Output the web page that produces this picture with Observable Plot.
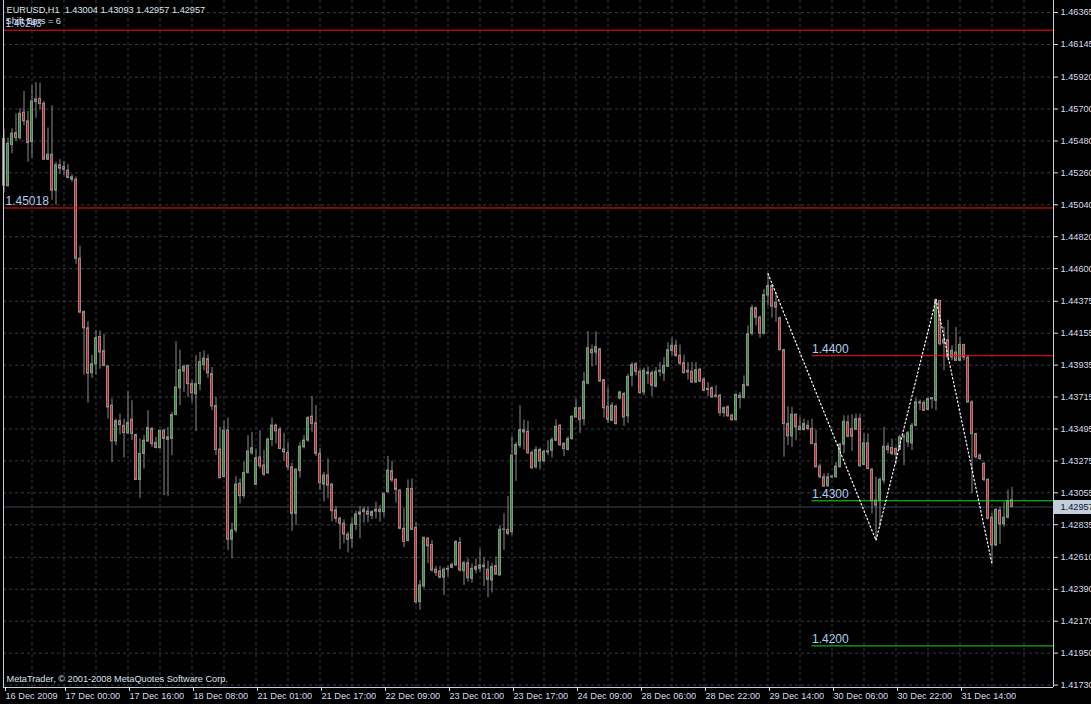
<!DOCTYPE html>
<html>
<head>
<meta charset="utf-8">
<script src="https://cdn.jsdelivr.net/npm/d3@7"></script>
<script src="https://cdn.jsdelivr.net/npm/@observablehq/plot@0.6"></script>
<style>
  html, body { margin: 0; padding: 0; background: #000; overflow: hidden; }
  #chart svg { display: block; }
</style>
</head>
<body>
<div id="chart"></div>
<script>
// EURUSD H1 candles (bar index 0 = 16 Dec 2009 09:00)
const open = [
1.45493,1.45168,1.45452,1.45534,1.45500,1.45676,1.45615,1.45472,1.45748,1.45770,
1.45736,1.45351,1.45385,1.45138,1.45312,1.45301,1.45275,1.45230,1.45213,1.44668,
1.44301,1.44189,1.43880,1.43941,1.44129,1.44031,1.43925,1.43655,1.43410,1.43549,
1.43517,1.43465,1.43559,1.43453,1.43144,1.43323,1.43409,1.43494,1.43398,1.43364,
1.43483,1.43421,1.43426,1.43591,1.43776,1.43891,1.43930,1.43804,1.43735,1.43804,
1.43935,1.43976,1.43873,1.43653,1.43353,1.43163,1.43483,1.42732,1.42796,1.43117,
1.43032,1.43192,1.43328,1.43110,1.43298,1.43243,1.43190,1.43419,1.43518,1.43490,
1.43353,1.43330,1.43231,1.42910,1.43204,1.43369,1.43415,1.43580,1.43534,1.43323,
1.43112,1.43174,1.43112,1.42933,1.42876,1.42842,1.42766,1.42738,1.42835,1.42904,
1.42922,1.42926,1.42897,1.42926,1.42938,1.42922,1.43059,1.43204,1.43144,1.43071,
1.42807,1.42722,1.43082,1.42813,1.42302,1.42410,1.42738,1.42696,1.42525,1.42513,
1.42470,1.42525,1.42538,1.42554,1.42710,1.42515,1.42570,1.42463,1.42525,1.42531,
1.42554,1.42525,1.42451,1.42550,1.42486,1.42800,1.42800,1.42784,1.43318,1.43380,
1.43487,1.43476,1.43329,1.43231,1.43350,1.43272,1.43334,1.43345,1.43414,1.43517,
1.43391,1.43350,1.43425,1.43574,1.43638,1.43563,1.43808,1.44040,1.44021,1.44044,
1.43831,1.43648,1.43551,1.43648,1.43705,1.43735,1.43582,1.43861,1.43941,1.43889,
1.43747,1.43873,1.43880,1.43786,1.43889,1.43877,1.43923,1.44033,1.44068,1.43999,
1.43948,1.43884,1.43889,1.43815,1.43903,1.43834,1.43770,1.43776,1.43717,1.43724,
1.43605,1.43644,1.43586,1.43556,1.43724,1.43708,1.43793,1.44152,1.44327,1.44262,
1.44152,1.44416,1.44480,1.44365,1.44258,1.44038,1.43529,1.43444,1.43593,1.43511,
1.43488,1.43517,1.43495,1.43391,1.43236,1.43162,1.43100,1.43162,1.43162,1.43231,
1.43387,1.43540,1.43495,1.43490,1.43563,1.43247,1.43396,1.43215,1.43002,1.42997,
1.43139,1.43373,1.43364,1.43357,1.43352,1.43437,1.43403,1.43396,1.43517,1.43671,
1.43673,1.43627,1.43700,1.43689,1.44377,1.44084,1.44107,1.43987,1.44022,1.43964,
1.44074,1.43987,1.43678,1.43460,1.43311,1.43254,1.43144,1.42883,1.42692,1.42933,
1.42837,1.42883,1.43004];
const high = [
1.45557,1.45500,1.45564,1.45667,1.45702,1.45821,1.45683,1.45862,1.45883,1.45878,
1.45752,1.45569,1.45722,1.45333,1.45351,1.45340,1.45317,1.45248,1.45232,1.44755,
1.44308,1.44235,1.44003,1.44171,1.44171,1.44148,1.43930,1.43701,1.43563,1.43598,
1.43563,1.43751,1.43689,1.43460,1.43426,1.43449,1.43621,1.43506,1.43437,1.43483,
1.43494,1.43506,1.43609,1.44097,1.44038,1.43935,1.43935,1.43827,1.44003,1.44022,
1.44033,1.44006,1.43919,1.43713,1.43506,1.43548,1.43570,1.42846,1.43167,1.43151,
1.43266,1.43449,1.43472,1.43357,1.43483,1.43346,1.43431,1.43570,1.43529,1.43506,
1.43465,1.43403,1.43259,1.43220,1.43403,1.43449,1.43580,1.43719,1.43655,1.43362,
1.43197,1.43289,1.43117,1.42961,1.42887,1.42869,1.42784,1.42876,1.42929,1.42961,
1.42956,1.42956,1.42933,1.42991,1.42968,1.43053,1.43305,1.43273,1.43151,1.43075,
1.42945,1.43144,1.43151,1.42852,1.42451,1.42749,1.42749,1.42726,1.42548,1.42548,
1.42538,1.42548,1.42570,1.42726,1.42745,1.42584,1.42600,1.42566,1.42600,1.42669,
1.42607,1.42584,1.42570,1.42612,1.42829,1.42910,1.43029,1.43441,1.43402,1.43655,
1.43556,1.43547,1.43345,1.43373,1.43363,1.43350,1.43414,1.43437,1.43558,1.43524,
1.43402,1.43441,1.43586,1.43700,1.43643,1.43884,1.44166,1.44074,1.44166,1.44051,
1.43838,1.43781,1.43677,1.43661,1.43754,1.43747,1.43873,1.43953,1.43953,1.43907,
1.43914,1.43923,1.43896,1.43919,1.43953,1.43987,1.44090,1.44120,1.44107,1.44074,
1.44003,1.43953,1.43953,1.43953,1.43914,1.43850,1.43815,1.43786,1.43793,1.43735,
1.43648,1.43655,1.43598,1.43735,1.43747,1.43861,1.44205,1.44349,1.44336,1.44274,
1.44457,1.44565,1.44492,1.44434,1.44267,1.44045,1.43648,1.43644,1.43598,1.43575,
1.43563,1.43552,1.43563,1.43488,1.43254,1.43185,1.43189,1.43174,1.43265,1.43396,
1.43586,1.43586,1.43593,1.43598,1.43598,1.43460,1.43460,1.43219,1.43162,1.43158,
1.43506,1.43396,1.43426,1.43368,1.43449,1.43460,1.43478,1.43534,1.43708,1.43694,
1.43689,1.43705,1.43708,1.44388,1.44382,1.44194,1.44244,1.44068,1.44194,1.44125,
1.44079,1.43999,1.43689,1.43465,1.43323,1.43265,1.43151,1.42915,1.42944,1.42956,
1.42990,1.43075,1.43093];
const low = [
1.45122,1.45163,1.45392,1.45477,1.45484,1.45585,1.45333,1.45362,1.45637,1.45695,
1.45346,1.45346,1.45071,1.45037,1.45248,1.45241,1.45218,1.45195,1.44629,1.44292,
1.43866,1.43673,1.43843,1.43868,1.43907,1.43923,1.43563,1.43265,1.43380,1.43453,
1.43295,1.43460,1.43414,1.43139,1.43018,1.43219,1.43403,1.43368,1.43357,1.43352,
1.43036,1.43031,1.43311,1.43586,1.43655,1.43747,1.43712,1.43673,1.43478,1.43758,
1.43896,1.43843,1.43621,1.43312,1.43151,1.43158,1.42658,1.42601,1.42777,1.42979,
1.43014,1.43185,1.43312,1.43105,1.43220,1.43167,1.43181,1.43373,1.43392,1.43355,
1.43270,1.43208,1.42789,1.42830,1.43156,1.43357,1.43403,1.43472,1.43305,1.43071,
1.42991,1.43014,1.42853,1.42846,1.42663,1.42704,1.42640,1.42674,1.42796,1.42738,
1.42846,1.42849,1.42869,1.42874,1.42853,1.42887,1.43055,1.43128,1.42984,1.42803,
1.42677,1.42718,1.42796,1.42286,1.42245,1.42394,1.42566,1.42509,1.42479,1.42463,
1.42348,1.42474,1.42531,1.42548,1.42509,1.42417,1.42440,1.42433,1.42497,1.42509,
1.42410,1.42332,1.42364,1.42486,1.42481,1.42658,1.42761,1.42761,1.43134,1.43363,
1.43350,1.43322,1.43219,1.43219,1.43212,1.43265,1.43311,1.43295,1.43409,1.43373,
1.43304,1.43345,1.43418,1.43570,1.43464,1.43517,1.43799,1.43923,1.43930,1.43815,
1.43570,1.43533,1.43547,1.43524,1.43694,1.43513,1.43534,1.43786,1.43861,1.43735,
1.43724,1.43804,1.43717,1.43781,1.43854,1.43822,1.43919,1.43999,1.43987,1.43930,
1.43873,1.43831,1.43811,1.43811,1.43815,1.43754,1.43717,1.43708,1.43708,1.43582,
1.43575,1.43575,1.43547,1.43552,1.43632,1.43701,1.43786,1.44136,1.44205,1.44120,
1.44143,1.44343,1.44258,1.44228,1.44033,1.43300,1.43380,1.43368,1.43414,1.43479,
1.43479,1.43483,1.43387,1.43226,1.43151,1.43093,1.43093,1.43151,1.43158,1.43226,
1.43323,1.43433,1.43341,1.43488,1.43231,1.43242,1.43213,1.42910,1.42727,1.42818,
1.43116,1.43323,1.43311,1.43249,1.43346,1.43242,1.43368,1.43346,1.43511,1.43621,
1.43616,1.43621,1.43632,1.43621,1.44068,1.43896,1.43964,1.43964,1.43960,1.43960,
1.43964,1.43671,1.43048,1.43288,1.43277,1.43132,1.42869,1.42566,1.42685,1.42699,
1.42818,1.42876,1.42957];
const close = [
1.45172,1.45461,1.45530,1.45500,1.45667,1.45615,1.45466,1.45752,1.45766,1.45734,
1.45351,1.45385,1.45138,1.45312,1.45289,1.45282,1.45225,1.45213,1.44668,1.44297,
1.44189,1.43877,1.43941,1.44120,1.44022,1.43930,1.43643,1.43410,1.43549,1.43522,
1.43467,1.43536,1.43460,1.43144,1.43323,1.43414,1.43501,1.43391,1.43364,1.43483,
1.43426,1.43437,1.43591,1.43781,1.43900,1.43923,1.43804,1.43742,1.43804,1.43957,
1.43980,1.43878,1.43651,1.43350,1.43156,1.43483,1.42732,1.42796,1.43112,1.43032,
1.43192,1.43339,1.43362,1.43293,1.43238,1.43181,1.43422,1.43518,1.43479,1.43357,
1.43334,1.43231,1.42910,1.43215,1.43373,1.43415,1.43570,1.43529,1.43323,1.43121,
1.43174,1.43105,1.42929,1.42876,1.42842,1.42768,1.42732,1.42835,1.42906,1.42920,
1.42938,1.42904,1.42922,1.42938,1.42922,1.43048,1.43208,1.43140,1.43075,1.42807,
1.42716,1.43082,1.42800,1.42302,1.42417,1.42745,1.42687,1.42520,1.42502,1.42470,
1.42525,1.42531,1.42559,1.42715,1.42520,1.42570,1.42467,1.42531,1.42543,1.42554,
1.42543,1.42456,1.42543,1.42492,1.42800,1.42802,1.42772,1.43311,1.43384,1.43487,
1.43471,1.43327,1.43224,1.43350,1.43272,1.43338,1.43341,1.43418,1.43510,1.43384,
1.43357,1.43425,1.43579,1.43638,1.43556,1.43820,1.44051,1.44017,1.44060,1.43822,
1.43638,1.43558,1.43655,1.43528,1.43747,1.43575,1.43854,1.43935,1.43889,1.43742,
1.43896,1.43884,1.43793,1.43889,1.43896,1.43930,1.44038,1.44068,1.43999,1.43946,
1.43880,1.43896,1.43815,1.43900,1.43822,1.43758,1.43763,1.43712,1.43724,1.43605,
1.43639,1.43582,1.43556,1.43731,1.43708,1.43797,1.44148,1.44327,1.44262,1.44152,
1.44418,1.44480,1.44338,1.44331,1.44038,1.43529,1.43444,1.43593,1.43506,1.43488,
1.43529,1.43495,1.43391,1.43231,1.43162,1.43098,1.43162,1.43167,1.43236,1.43387,
1.43545,1.43442,1.43442,1.43563,1.43238,1.43396,1.43219,1.42997,1.42967,1.43144,
1.43373,1.43350,1.43323,1.43318,1.43437,1.43442,1.43465,1.43517,1.43678,1.43678,
1.43621,1.43701,1.43708,1.44382,1.44079,1.44107,1.43987,1.44033,1.43964,1.44074,
1.43987,1.43678,1.43460,1.43300,1.43288,1.43144,1.42876,1.42692,1.42938,1.42837,
1.42883,1.42997,1.42957];

// ZigZag turning points (bar index, price)
const zigzagBars   = [191, 218, 233, 247];
const zigzagPrices = [1.44565, 1.42727, 1.44388, 1.42566];

// Horizontal line objects
const levelPrices = [1.46243, 1.45018, 1.4400, 1.4300, 1.4200];
const levelLabels = ["1.46243", "1.45018", "1.4400", "1.4300", "1.4200"];
const levelColors = ["#ff1010", "#ff1010", "#ff1010", "#10e010", "#10e010"];
const levelStart  = [null, null, 202, 202, 202];

// Axis ticks
const priceTicks = [1.46365,1.46145,1.45920,1.45700,1.45480,1.45260,1.45040,1.44820,1.44600,1.44375,1.44155,
                    1.43935,1.43715,1.43495,1.43275,1.43055,1.42835,1.42610,1.42390,1.42170,1.41950,1.41730];
const timeTickBars = [0,15,31,47,63,79,95,111,127,143,159,175,191,207,223,239];
const timeTickLabels = ["16 Dec 2009","17 Dec 00:00","17 Dec 16:00","18 Dec 08:00","21 Dec 01:00","21 Dec 17:00",
  "22 Dec 09:00","23 Dec 01:00","23 Dec 17:00","24 Dec 09:00","28 Dec 06:00","28 Dec 22:00",
  "29 Dec 14:00","30 Dec 06:00","30 Dec 22:00","31 Dec 14:00"];

const symbolText = "EURUSD,H1  1.43004 1.43093 1.42957 1.42957";
const shiftText = "Shift Bars = 6";
const copyrightText = "MetaTrader, © 2001-2008 MetaQuotes Software Corp.";
const bid = close[close.length - 1];

// ---- build tables ----
const candles = open.map((o, i) => ({i, open: o, high: high[i], low: low[i], close: close[i]}));
const zigzag = zigzagBars.map((b, j) => ({i: b, price: zigzagPrices[j]}));
const xDomain = [-0.125, 262.375];
const yDomain = [1.417133, 1.46448];
const levels = levelPrices.map((p, j) => ({price: p, label: levelLabels[j], color: levelColors[j], start: levelStart[j]}));
const labelMap = new Map(timeTickBars.map((b, j) => [b, timeTickLabels[j]]));
const vGrid = d3.range(7, xDomain[1], 8);

const bull = "#1f9a1f", bear = "#e31515", wick = "#8c8c8c";
const axisColor = "#d6dfeb";
const gridColor = "#353c48";
const font = "Liberation Sans, Arial, sans-serif";

const chart = Plot.plot({
  width: 1091,
  height: 704,
  marginLeft: 3,
  marginRight: 38,
  marginTop: 0,
  marginBottom: 17,
  x: {domain: xDomain, axis: null},
  y: {domain: yDomain, axis: null},
  color: {type: "identity"},
  style: {background: "#000", color: axisColor, fontFamily: font, fontSize: "9.2px"},
  marks: [
    Plot.gridY(priceTicks, {stroke: gridColor, strokeOpacity: 1, strokeDasharray: "3,3"}),
    Plot.gridX(vGrid, {stroke: gridColor, strokeOpacity: 1, strokeDasharray: "3,3"}),
    // bid line
    Plot.ruleY([bid], {stroke: "#3a4250", strokeWidth: 1}),
    // candles
    Plot.ruleX(candles, {x: "i", y1: "low", y2: "high", stroke: wick, strokeWidth: 1}),
    Plot.rect(candles, {
      x1: d => d.i - 0.25, x2: d => d.i + 0.25, y1: "open", y2: "close",
      fill: d => d.close >= d.open ? bull : bear, stroke: wick, strokeWidth: 1
    }),
    // horizontal line objects
    Plot.ruleY(levels, {y: "price", x1: d => d.start ?? xDomain[0], x2: () => xDomain[1], stroke: "color", strokeWidth: 1}),
    Plot.text(levels.filter(d => d.start !== null && d.price < 1.46), {
      x: d => d.start, y: "price", text: "label", textAnchor: "start", lineAnchor: "bottom",
      dy: -3, fill: "#b2cdf2", fontSize: 12
    }),
    Plot.text(levels.filter(d => d.start === null && d.price < 1.46), {
      x: () => 0, y: "price", text: "label", textAnchor: "start", lineAnchor: "bottom",
      dx: 1.5, dy: -3, fill: "#b2cdf2", fontSize: 12
    }),
    Plot.text(levels.filter(d => d.price > 1.46), {
      x: () => 0, y: "price", text: "label", textAnchor: "start", lineAnchor: "bottom",
      dx: 1.5, dy: -3, fill: "#b2cdf2", fontSize: 10
    }),
    // zigzag
    Plot.line(zigzag, {x: "i", y: "price", stroke: "#ffffff", strokeWidth: 1.2, strokeDasharray: "1.5,2.5"}),
    // frame
    Plot.ruleX([xDomain[0], xDomain[1]], {stroke: "#c6cedb", strokeWidth: 1}),
    Plot.ruleY([yDomain[0]], {stroke: "#c6cedb", strokeWidth: 1}),
    // axes
    Plot.axisY(priceTicks, {
      anchor: "right", tickFormat: d => d.toFixed(5), tickSize: 4, tickPadding: 3,
      color: axisColor, label: null, fontSize: 9.2
    }),
    Plot.axisX(timeTickBars, {
      anchor: "bottom", tickFormat: d => labelMap.get(d), tickSize: 4, tickPadding: 1,
      textAnchor: "start", dx: 1.5, color: axisColor, label: null, fontSize: 9.2
    }),
    // bid price marker on the axis
    Plot.ruleY([bid], {stroke: "#c2cddd", strokeWidth: 14, insetLeft: 1051, insetRight: -40}),
    Plot.text([bid], {y: d => d, frameAnchor: "right", textAnchor: "start", dx: 7,
      text: d => d.toFixed(5), fill: "#0b1626", fontSize: 9.2}),
    // corner texts
    Plot.text([symbolText], {frameAnchor: "top-left", dx: 3, dy: 10, lineAnchor: "middle",
      textAnchor: "start", fill: "#dde4ee", fontSize: 9.2}),
    Plot.text([shiftText], {frameAnchor: "top-left", dx: 2, dy: 21, lineAnchor: "middle",
      textAnchor: "start", fill: "#dde4ee", fontSize: 9.2}),
    Plot.text([copyrightText], {frameAnchor: "bottom-left", dx: 3, dy: -8, lineAnchor: "middle",
      textAnchor: "start", fill: "#dde4ee", fontSize: 9.2})
  ]
});
document.getElementById("chart").appendChild(chart);
</script>
</body>
</html>
